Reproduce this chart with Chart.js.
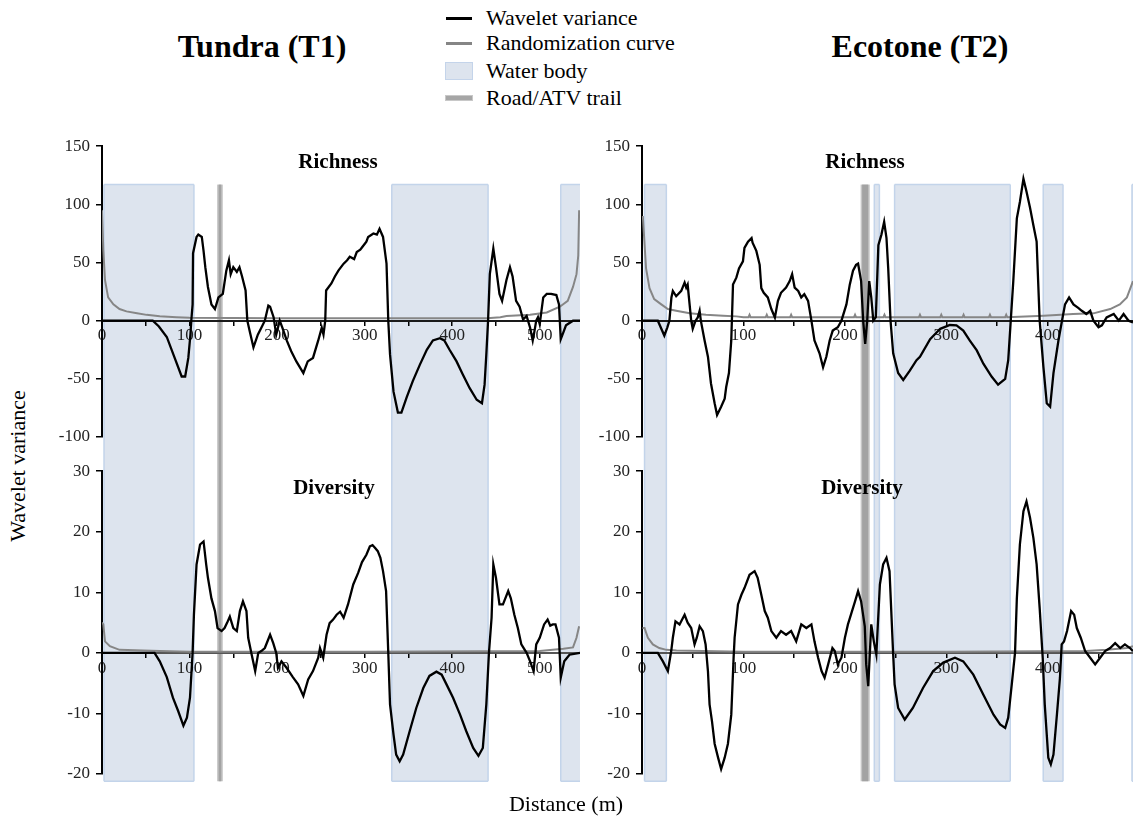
<!DOCTYPE html>
<html>
<head>
<meta charset="utf-8">
<title>Wavelet variance - Tundra and Ecotone</title>
<script src="https://cdn.jsdelivr.net/npm/chart.js@4.4.0/dist/chart.umd.min.js"></script>
<style>
body { margin: 0; background: #fff; font-family: "Liberation Serif", "Times New Roman", serif; }
#page { position: relative; width: 1133px; height: 826px; overflow: hidden; }
canvas { position: absolute; }
.txt { position: absolute; white-space: nowrap; color: #000; line-height: 1; }
.big { font-size: 32px; font-weight: bold; transform: translate(-50%, -50%); }
.sub { font-size: 21px; font-weight: bold; transform: translate(-50%, -50%); }
.leg { font-size: 22px; transform: translateY(-50%); }
.sw { position: absolute; }
</style>
</head>
<body>
<div id="page">
  <div class="txt big" style="left:262px; top:46px;">Tundra (T1)</div>
  <div class="txt big" style="left:920px; top:46px;">Ecotone (T2)</div>

  <!-- legend -->
  <div class="sw" style="left:446px; top:17px; width:26px; height:3px; background:#000;"></div>
  <div class="txt leg" style="left:486px; top:18px;">Wavelet variance</div>
  <div class="sw" style="left:446px; top:42px; width:26px; height:3px; background:#858585;"></div>
  <div class="txt leg" style="left:486px; top:43px;">Randomization curve</div>
  <div class="sw" style="left:445px; top:62px; width:26px; height:16px; background:#dde4ee; border:1px solid #c4d4ea;"></div>
  <div class="txt leg" style="left:486px; top:71px;">Water body</div>
  <div class="sw" style="left:445px; top:95px; width:26px; height:4px; background:#a6a6a6; border:1px solid #c8c8c8;"></div>
  <div class="txt leg" style="left:486px; top:98px;">Road/ATV trail</div>

  <canvas id="tRich" width="542" height="325" style="left:38px; top:130px;"></canvas>
  <canvas id="tDiv" width="542" height="345" style="left:38px; top:455px;"></canvas>
  <canvas id="eRich" width="553" height="325" style="left:580px; top:130px;"></canvas>
  <canvas id="eDiv" width="553" height="345" style="left:580px; top:455px;"></canvas>

  <div class="txt sub" style="left:338px; top:161px;">Richness</div>
  <div class="txt sub" style="left:865px; top:161px;">Richness</div>
  <div class="txt sub" style="left:334px; top:487px;">Diversity</div>
  <div class="txt sub" style="left:862px; top:487px;">Diversity</div>

  <div class="txt" style="left:18px; top:466px; font-size:22px; transform:translate(-50%,-50%) rotate(-90deg);">Wavelet variance</div>
  <div class="txt" style="left:566px; top:804px; font-size:22px; transform:translate(-50%,-50%);">Distance (m)</div>
</div>

<script>
// Tundra (T1) - richness
let tRichDist = [0,20,45,58,65,74,83,91,95,98.6,101,102,103.5,104,108,110,114,116,118,121,125,129,133,138,142,145,147,150,154,157,160,164,166,169,173,178,182,186,190,192,196,199,203,206,211,216,222,230,235,241,247,251,253,255,256,262,266,270,276,280,283,288,291,295,298,302,304,310,314,317,321,325,327,329,333,338,342,348,355,363,371,378,386,391,397,405,412,420,428,434,437,439,441,443,447,450,454,457,462,466,469,473,477,481,485,489,492,494,496,498,500,504,508,513,519,522,524,527,530,538,546];
let tRichWav  = [0,0,0,0,-5,-14,-32,-48,-48,-32,-12,0,14,58,72,74,72,60,46,29,14,10,20,23,43,52,40,46,42,46,38,26,0,-10,-23,-12,-6,0,13,12,3,-12,0,-6,-17,-26,-35,-45,-35,-32,-17,-6,-12,0,26,32,38,43,49,52,55,53,59,61,64,68,72,75,74,79,72,49,0,-29,-61,-79,-79,-66,-52,-38,-25,-17,-15,-17,-25,-35,-46,-58,-68,-71,-55,-29,0,40,62,46,23,17,35,46,38,17,12,1,4,-6,-17,-9,0,3,-3,20,23,23,22,14,-16,-10,-4,0,0];
let tRichRandDist = [0,1.5,3.4,7,13,20,28,40,51,66,85,100,200,300,400,440,455,462,489,508,523,532,538,542,544,545];
let tRichRand     = [95,61,35,20,14,10,8,6.4,5,3.8,3,2.5,2,2,2,2,3,4,5,7,12,17,29,40,56,95];

// Tundra (T1) - diversity
let tDivDist = [0,30,60,66,74,81,87,93,97,100.5,103.5,105,108,112,116,119,121,125,129,132,136.6,140,143,146,150,154,157.5,161,165,167,171,175,178.5,182,186,192,195.6,199,201,205,211,218,224,230,235.5,241,247,249,252.7,256.5,260,264,268,272,276,281,287,292.6,297,302,306,309,312,315,318,321,324.5,327,329,333,336,340,344,351.5,359,367,374,382,388,393.5,401,409,416,424,430,435,439,442,445,447,450,454,458,464,467,471,475,479,485,489,493,496,500,505,509,512,515,518,522,524,528,534,546];
let tDivWav  = [0,0,0,-1.4,-4,-7.4,-9.6,-12,-10.7,-7.4,0,6.3,14.6,17.9,18.4,14.6,12.4,9,6.9,4.1,3.6,4.1,5,6,4.1,3.6,6.9,8.5,6.9,2.5,-0.3,-3,0,0.3,0.8,3,1.6,0,-2.5,-1.4,-2.5,-4,-5.2,-7.1,-4.4,-3,-0.8,0.8,-0.8,3,4.9,5.5,6.3,6.8,5.8,8,11.3,13.2,15,16.2,17.6,17.8,17.3,16.8,15.7,13.5,10.2,0,-8.5,-13.5,-16.8,-17.9,-16.8,-12.9,-9.1,-5.8,-3.8,-3.1,-3.6,-5.2,-7.4,-10.2,-12.9,-15.7,-17,-15.7,-8.5,0,5.8,14.6,12.4,8,8,10.2,9,6.3,4.1,1.4,0,-1.4,-3,1.4,2.5,4.7,5.5,4.5,4.7,4.7,2.5,-4.1,-1.4,-0.3,0];
let tDivRandDist = [0,1.5,3.4,9,20,47,66,100,300,500,527,538,542,545];
let tDivRand     = [5,4.7,1.9,1.1,0.5,0.4,0.3,0.2,0.2,0.3,0.7,0.9,2.5,4.4];

// Ecotone (T2) - richness
let eRichDist = [0,15.6,22,25,27,29,30.4,33.7,38.7,42,43.6,45,48.5,50,52.8,55,56.8,58,61.7,65,68,71.6,74,78,81.5,83,85.7,88,89.7,93,95.6,99.5,101,104.5,108,109,112.7,116,117.6,120,124,127.5,131,134,137,142,145.6,148,150.5,154,157,160,163.7,167,170,175,178.5,181.7,185,188,193,196.6,201.5,204.8,208,211,213,216,218,220,222,224,226,228,230.5,233,236,238.7,241,242.7,245,247.6,252.5,257.5,264,270.6,274,284,294,303.5,310,316.7,323,330,336.5,344.6,351,358,361,363.5,366,369.5,372.5,376,379,382.5,385.8,389,392,395.7,399,402.3,405.6,410.5,414,417,421,425.3,430,433.5,438,441.8,445,450,453.3,458,465,470,474.7,479.6,484];
let eRichWav  = [0,0,-12.8,-5.7,0,20,25.6,21,25.6,32.7,28.4,31,0,-7,0,2.8,8.5,0,-17,-31,-54,-71,-81,-74,-67,-57,-45,-17,31,37,45,51,62.5,68,71,67,60,48,28,24,20,10,2.8,17,24,28.4,34,40,28.4,25.6,20,22.7,17,0,-17,-28,-40,-31,-17,-8.5,-5.7,0,14,31,43,48,49,34,0,-20,0,34,20,0,3,65,74,85,71,45,0,-28,-45,-51,-43,-34,-31,-16,-7,-3.7,-4,-8.5,-17,-25.6,-37,-48,-55,-50,-34,0,34,88,102,122,111,97,82,68,0,-40,-71,-74,-45,-17,0,14,20,14,11,8.5,5.7,8.5,0,-5.7,-4,2.8,5.7,0,5.7,0,-1.4];
let eRichRandDist = [0.8,4,7.4,12,19,25.5,33.7,47,63,80,93,100,105,106,107,122,123,124,146,147,148,200,209,210,211,238,239,240,273,274,275,294,295,296,316,317,318,342,343,344,358,359,360,396,425,445,461.5,471,478,484];
let eRichRand     = [90,45,28,18.5,14,10,8.5,6.3,5,4.3,3.7,3,3,5,3,3,5,3,3,5,3,3,3,5,3,3,5,3,3,5,3,3,5,3,3,5,3,3,5,3,3,5,3,4.3,5.7,6.3,10,14,20,34];

// Ecotone (T2) - diversity
let eDivDist = [0,15.6,20.6,25.5,28.8,30.4,33,37,42,45,48.5,51.8,54,56.8,60,62.7,65,66.6,69,71.6,75,78,81.5,84.7,88,90.3,91.3,94.6,98,101,106,111,114,117.6,121,124,127.5,132.4,137,142,147,152,157,162,167,170,173.6,177,180,183.5,187.7,190,193,196.6,200,203,206.5,210,213,216,219.6,221,223,226,228.5,231,234.5,237.7,241,244,247.6,249,252.5,259,267,277,287,297,308.5,316.7,326.6,336.5,346.5,353,358,361,364.5,367.7,369.5,372.5,376,379,382.5,385.8,389,392,395,397,400.5,403,405.6,409,412,413.7,416,419,423,426,428.6,432.5,436.8,441.8,446.7,451.6,456.5,461.5,466.4,471.4,476,481,484];
let eDivWav  = [0,0,-1.4,-3,0.3,2.5,5.2,4.7,6.3,5,4.1,1.4,2.5,4.4,3.6,1.4,-3,-8.5,-11.3,-15,-17.3,-19.2,-17.3,-15,-10.2,-0.8,2.5,8,9.6,10.7,12.9,13.5,12.4,9.6,6.9,5.8,3.6,2.5,3.6,3,3.6,1.9,4.7,4.1,4.7,1.9,-0.8,-3,-4.1,-1.9,0.8,0.3,-1.9,-0.8,2.5,4.7,6.6,8.5,10.2,8.5,4.4,-1.9,-5.5,4.7,1.9,-0.3,11.3,14.6,15.7,13.5,-0.3,-5.2,-9.1,-11,-9.1,-5.8,-3,-1.6,-0.8,-1.4,-3.6,-6.9,-10.2,-11.8,-12.4,-10.7,-5.2,0,9,17.9,23.4,25,22.3,19,14.6,7.4,-0.8,-8.5,-17.3,-18.4,-16.8,-10.2,-4.1,1.4,1.9,3.6,6.9,6.3,4.1,2.5,0.3,-0.8,-1.9,-0.8,0.3,0.8,1.6,0.8,1.4,0.8,0.3];
let eDivRandDist = [0.5,2.5,5.8,10.7,17,24,34,60,100,300,438,458,478,484];
let eDivRand     = [4.1,4.1,2.5,1.4,0.8,0.5,0.4,0.3,0.2,0.2,0.3,0.5,0.8,1.1];

// water bodies and road crossings along each transect (m)
let tundraWater  = [[2.3, 105], [331, 441], [524, 550]];
let tundraRoad   = [[131.5, 138]];
let ecotoneWater = [[2.5, 24], [229, 234], [249, 363], [395.5, 415], [483, 500]];
let ecotoneRoad  = [[215.5, 224.5]];

function pts(xs, ys) {
    return xs.map((x, i) => ({ x: x, y: ys[i] }));
}

// shaded strips behind the curves
const stripPlugin = {
    id: "strips",
    beforeDraw(chart, args, opts) {
        let ctx = chart.ctx, xs = chart.scales.x, ys = chart.scales.y, area = chart.chartArea;
        let top = opts.top !== undefined ? ys.getPixelForValue(opts.top) : 0;
        let bottom = opts.bottom !== undefined ? ys.getPixelForValue(opts.bottom) : chart.height;
        ctx.save();
        ctx.beginPath();
        ctx.rect(area.left, 0, area.right - area.left, chart.height);
        ctx.clip();
        opts.water.forEach(w => {
            let x0 = xs.getPixelForValue(w[0]), x1 = xs.getPixelForValue(w[1]);
            ctx.fillStyle = "#dde4ee";
            ctx.fillRect(x0, top, x1 - x0, bottom - top);
            ctx.strokeStyle = "#c3d4ea";
            ctx.lineWidth = 1.5;
            ctx.beginPath();
            ctx.moveTo(x0, top); ctx.lineTo(x0, bottom);
            ctx.moveTo(x1, top); ctx.lineTo(x1, bottom);
            if (opts.top !== undefined) { ctx.moveTo(x0, top); ctx.lineTo(x1, top); }
            if (opts.bottom !== undefined) { ctx.moveTo(x0, bottom); ctx.lineTo(x1, bottom); }
            ctx.stroke();
        });
        opts.road.forEach(r => {
            let x0 = xs.getPixelForValue(r[0]), x1 = xs.getPixelForValue(r[1]);
            ctx.fillStyle = "#c6c6c6";
            ctx.fillRect(x0, top, x1 - x0, bottom - top);
            ctx.fillStyle = "#a3a3a3";
            ctx.fillRect(x0 + 1.5, top, x1 - x0 - 3, bottom - top);
        });
        ctx.restore();
    }
};

function makePanel(id, cfg) {
    let tickFont = { family: "'Liberation Serif', serif", size: 17 };
    return new Chart(document.getElementById(id), {
        type: "line",
        data: {
            datasets: [
                { label: "Wavelet variance", data: pts(cfg.dist, cfg.wav), borderColor: "#000", borderWidth: 2.3, pointRadius: 0, tension: 0 },
                { label: "Randomization curve", data: pts(cfg.randDist, cfg.rand), borderColor: "#868686", borderWidth: 2, pointRadius: 0, tension: 0 }
            ]
        },
        options: {
            responsive: false,
            animation: false,
            events: [],
            layout: { padding: cfg.pad },
            plugins: {
                legend: { display: false },
                tooltip: { enabled: false },
                strips: { water: cfg.water, road: cfg.road, top: cfg.stripTop, bottom: cfg.stripBottom }
            },
            scales: {
                x: {
                    type: "linear",
                    min: 0,
                    max: cfg.xMax,
                    position: { y: 0 },
                    ticks: {
                        stepSize: 50,
                        autoSkip: false,
                        includeBounds: false,
                        maxRotation: 0,
                        padding: 1,
                        color: "#222",
                        font: tickFont,
                        callback: v => (v % 100 === 0 ? v : "")
                    },
                    grid: { drawOnChartArea: false, drawTicks: true, tickLength: 4, color: "#000", lineWidth: 1.5 },
                    border: { display: true, color: cfg.axisColor, width: 2 }
                },
                y: {
                    min: cfg.yMin,
                    max: cfg.yMax,
                    ticks: { stepSize: cfg.yStep, padding: 6, color: "#222", font: tickFont },
                    grid: { drawOnChartArea: false, drawTicks: true, tickLength: 6, color: "#000", lineWidth: 1.5 },
                    border: { display: true, color: "#000", width: 2 },
                    afterFit: s => { s.width = cfg.yWidth; }
                }
            }
        },
        plugins: [stripPlugin]
    });
}

makePanel("tRich", {
    dist: tRichDist, wav: tRichWav, randDist: tRichRandDist, rand: tRichRand,
    water: tundraWater, road: tundraRoad, stripTop: 117, axisColor: "#1a1a1a",
    xMax: 546, yMin: -100, yMax: 150, yStep: 50, yWidth: 64,
    pad: { top: 16, bottom: 18, left: 0, right: 0 }
});
makePanel("tDiv", {
    dist: tDivDist, wav: tDivWav, randDist: tDivRandDist, rand: tDivRand,
    water: tundraWater, road: tundraRoad, stripBottom: -21.2, axisColor: "#555",
    xMax: 546, yMin: -20, yMax: 30, yStep: 10, yWidth: 64,
    pad: { top: 14.5, bottom: 26, left: 0, right: 0 }
});
makePanel("eRich", {
    dist: eRichDist, wav: eRichWav, randDist: eRichRandDist, rand: eRichRand,
    water: ecotoneWater, road: ecotoneRoad, stripTop: 117, axisColor: "#1a1a1a",
    xMax: 484, yMin: -100, yMax: 150, yStep: 50, yWidth: 62,
    pad: { top: 16, bottom: 18, left: 0, right: 0 }
});
makePanel("eDiv", {
    dist: eDivDist, wav: eDivWav, randDist: eDivRandDist, rand: eDivRand,
    water: ecotoneWater, road: ecotoneRoad, stripBottom: -21.2, axisColor: "#555",
    xMax: 484, yMin: -20, yMax: 30, yStep: 10, yWidth: 62,
    pad: { top: 14.5, bottom: 26, left: 0, right: 0 }
});
</script>
</body>
</html>
